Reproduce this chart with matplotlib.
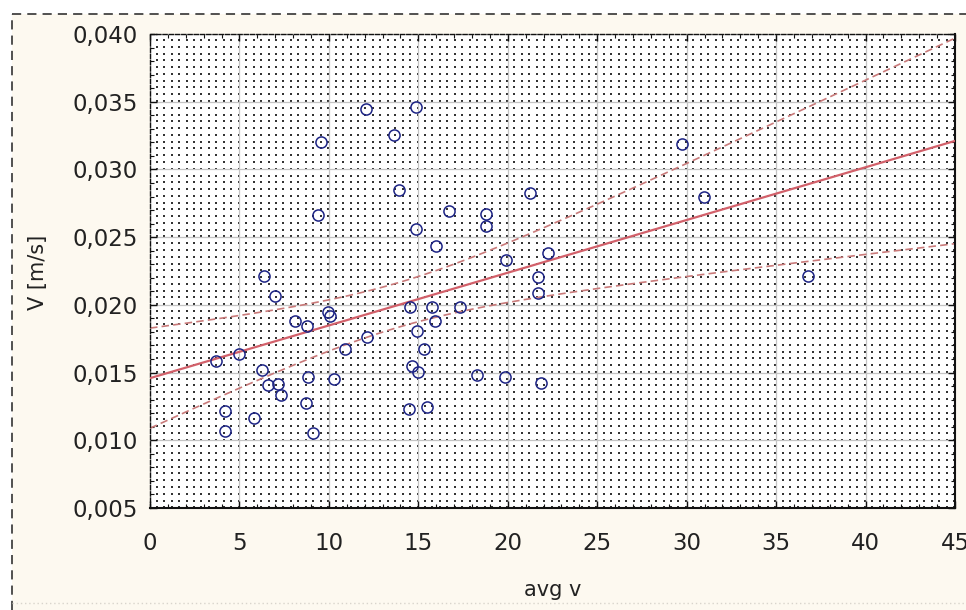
import numpy as np
import matplotlib
matplotlib.use("Agg")
import matplotlib.pyplot as plt
from matplotlib.lines import Line2D
from matplotlib.patches import Rectangle
from matplotlib.ticker import MultipleLocator, FuncFormatter

# ---- data ----
avg_v = [3.69, 4.97, 4.19, 4.19, 5.81, 6.26, 6.37, 6.58, 6.99, 7.14,
         7.32, 8.10, 8.72, 8.76, 8.83, 9.11, 9.41, 9.56, 9.93, 10.05,
         10.29, 10.90, 12.06, 12.13, 13.64, 13.92, 14.48, 14.53, 14.63, 14.85,
         14.85, 14.92, 14.96, 15.30, 15.47, 15.76, 15.93, 15.97, 16.71, 17.33,
         18.26, 18.76, 18.76, 19.84, 19.90, 21.24, 21.67, 21.67, 21.86, 22.27,
         29.72, 30.98, 36.80]
V = [0.01588, 0.01637, 0.01218, 0.01069, 0.01167, 0.01519, 0.02215, 0.01408, 0.02065, 0.01416,
     0.01334, 0.01880, 0.01275, 0.01844, 0.01467, 0.01056, 0.02664, 0.03205, 0.01945, 0.01915,
     0.01455, 0.01674, 0.03444, 0.01765, 0.03254, 0.02848, 0.01231, 0.01984, 0.01549, 0.03459,
     0.02558, 0.01810, 0.01506, 0.01674, 0.01248, 0.01984, 0.01880, 0.02437, 0.02693, 0.01984,
     0.01482, 0.02669, 0.02584, 0.01465, 0.02328, 0.02828, 0.02208, 0.02085, 0.01425, 0.02380,
     0.03186, 0.02799, 0.02215]
x_ticks = [0, 5, 10, 15, 20, 25, 30, 35, 40, 45]
y_ticks = [0.005, 0.010, 0.015, 0.020, 0.025, 0.030, 0.035, 0.040]
x_label = "avg v"
y_label = "V [m/s]"

x = np.array(avg_v)
y = np.array(V)

# regression with 95% confidence band for the mean
slope, intercept = np.polyfit(x, y, 1)
n = len(x)
resid = y - (slope * x + intercept)
s = np.sqrt(np.sum(resid ** 2) / (n - 2))
xm = x.mean()
sxx = np.sum((x - xm) ** 2)
t_val = 2.008
xf = np.linspace(0, 45, 300)
yf = slope * xf + intercept
half = t_val * s * np.sqrt(1.0 / n + (xf - xm) ** 2 / sxx)

plt.rcParams['font.family'] = ['DejaVu Sans']

W, H = 966, 610
fig = plt.figure(figsize=(W / 100, H / 100), dpi=100, facecolor='white')

# cream background inside dashed border
fig.patches.append(Rectangle((12 / W, 0), 1, 1 - 14 / H, transform=fig.transFigure,
                             facecolor='#fdf9f0', edgecolor='none', zorder=-10))
fig.add_artist(Line2D([12 / W, 1], [1 - 14 / H, 1 - 14 / H], transform=fig.transFigure,
                      color='#222222', lw=1.1, ls=(0, (6, 4))))
fig.add_artist(Line2D([12 / W, 12 / W], [0, 1 - 14 / H], transform=fig.transFigure,
                      color='#222222', lw=1.1, ls=(0, (6, 4))))
fig.add_artist(Line2D([12 / W, 1], [1 - 603 / H, 1 - 603 / H], transform=fig.transFigure,
                      color='#d8d4cc', lw=1.0, ls=(0, (1, 2))))

ax = fig.add_axes([150 / W, 1 - 508 / H, 805 / W, 474 / H])
ax.set_facecolor('white')
ax.set_xlim(0, 45)
ax.set_ylim(0.005, 0.040)

# dotted fill pattern
gx = np.arange(5 / 12 * 0.9, 45, 5 / 12)
gy = np.arange(0.040 - 0.00045, 0.005, -0.0005)
GX, GY = np.meshgrid(gx, gy)
ax.scatter(GX.ravel(), GY.ravel(), s=0.75, marker='s', color='#333333',
           linewidths=0, zorder=0.5)

# major grid
ax.set_xticks(x_ticks)
ax.set_yticks(y_ticks)
ax.grid(True, which='major', color='#c4c4c4', lw=0.9, zorder=0.6)
ax.set_axisbelow(True)

# confidence bands and regression line
ax.plot(xf, yf + half, color='#c97a7a', lw=1.2, ls=(0, (4.5, 2.5)), zorder=2)
ax.plot(xf, yf - half, color='#c97a7a', lw=1.2, ls=(0, (4.5, 2.5)), zorder=2)
ax.plot(xf, yf, color='#d2606a', lw=1.6, zorder=3)

# data points
ax.plot(x, y, ls='none', marker='o', ms=8.0, mfc='none', mec='#1c2384',
        mew=1.1, zorder=4)

# spines
for side in ['left', 'top']:
    ax.spines[side].set_linestyle((0, (3, 1.5)))
    ax.spines[side].set_linewidth(1.0)
    ax.spines[side].set_color('#111111')
for side in ['bottom', 'right']:
    ax.spines[side].set_linewidth(1.5)
    ax.spines[side].set_color('#111111')

ax.xaxis.set_minor_locator(MultipleLocator(1))
ax.yaxis.set_minor_locator(MultipleLocator(0.001))
ax.tick_params(which='major', direction='in', length=5, width=1.0, color='#111111',
               top=True, right=True, labelsize=16.5, labelcolor='#222222')
ax.tick_params(which='minor', direction='in', length=3, width=0.8, color='#111111',
               top=True, right=True)
ax.tick_params(axis='x', which='major', pad=17)
ax.tick_params(axis='y', which='major', pad=9)

ax.xaxis.set_major_formatter(FuncFormatter(lambda v, p: f"{v:.0f}"))
ax.yaxis.set_major_formatter(FuncFormatter(lambda v, p: f"{v:.3f}".replace('.', ',')))

fig.text(553 / W, 1 - 590 / H, x_label, ha='center', va='center', fontsize=15,
         color='#222222')
fig.text(38 / W, 1 - 272 / H, y_label, ha='center', va='center', rotation=90,
         fontsize=15, color='#222222')

fig.savefig('out.png', dpi=100, facecolor=fig.get_facecolor())
